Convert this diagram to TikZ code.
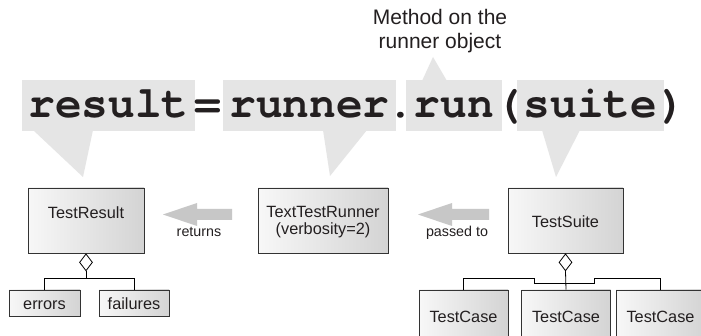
\documentclass[tikz,border=0pt]{standalone}
\usepackage{fontspec}
\setmainfont{Liberation Sans}
\newfontfamily\codefont{texgyrecursor}[Extension=.otf, UprightFont=*-regular, BoldFont=*-bold]
\usetikzlibrary{shapes.geometric}
\definecolor{calloutgray}{gray}{0.90}
\definecolor{arrowgray}{gray}{0.78}
\definecolor{inkcol}{HTML}{231F20}
\tikzset{
  calloutbox/.style={fill=calloutgray, draw=none, inner sep=0pt},
  codetext/.style={font=\codefont\bfseries\fontsize{44.5}{50}\selectfont, text=inkcol, inner sep=0pt, anchor=base},
  umlbox/.style={draw=black!80, line width=0.9pt, left color=black!3, right color=black!17, inner sep=0pt},
  umltext/.style={font=\fontsize{16.3}{18}\selectfont, text=inkcol, inner sep=0pt, anchor=base, align=center},
  smalltext/.style={font=\fontsize{14.3}{16}\selectfont, text=inkcol, inner sep=0pt, anchor=base},
  agg/.style={diamond, draw=black, line width=0.8pt, fill=white, inner sep=0pt, minimum width=13pt, minimum height=17pt, aspect=0.76},
  conn/.style={draw=black, line width=0.8pt},
  blockarrow/.style={fill=arrowgray, draw=none}
}
\begin{document}
\begin{tikzpicture}[x=1pt,y=-1pt]
\useasboundingbox (0,0) rectangle (701,336);
\clip (0,0) rectangle (701,336);
\fill[white] (0,0) rectangle (701,336);

% annotation
\node[font=\fontsize{21}{24}\selectfont, text=inkcol, align=center, inner sep=0pt] (note) at (440,31) {Method on the\\runner object};

% callout boxes
\node[calloutbox, minimum width=173pt, minimum height=51pt] (bres) at (108.5,105.5) {};
\node[calloutbox, minimum width=173pt, minimum height=51pt] (brun) at (309.5,105.5) {};
\node[calloutbox, minimum width=96pt, minimum height=51pt] (bmeth) at (454,105.5) {};
\node[calloutbox, minimum width=147pt, minimum height=51pt] (bsuite) at (590.5,105.5) {};

% callout pointers
\fill[calloutgray] (33,130) -- (93,130) -- (83,177) -- cycle;
\fill[calloutgray] (323,130) -- (367,130) -- (330,176) -- cycle;
\fill[calloutgray] (422,81) -- (447,81) -- (433,57) -- cycle;
\fill[calloutgray] (542,130) -- (580,130) -- (556,177) -- cycle;

% code text
\node[codetext] (tres) at (108.5,118) {result};
\node[codetext] (teq) at (208,118) {=};
\node[codetext] (trunner) at (309.5,118) {runner};
\node[codetext] (tdot) at (401,118) {.};
\node[codetext] (trun) at (454,118) {run};
\node[codetext] (tlp) at (509,118) {(};
\node[codetext] (tsuite) at (590.5,118) {suite};
\node[codetext] (trp) at (673,118) {)};

% UML boxes
\node[umlbox, minimum width=116pt, minimum height=65pt] (result) at (86,220.5) {};
\node[umltext] (resultlbl) at (86,219) {TestResult};

\node[umlbox, minimum width=130pt, minimum height=65pt] (runner) at (323,220.5) {};
\node[umltext] (runnerlbl) at (323,218) {TextTestRunner};
\node[umltext] (runnerlbl2) at (323,235) {(verbosity=2)};

\node[umlbox, minimum width=115pt, minimum height=65pt] (suite) at (565.5,220.5) {};
\node[umltext] (suitelbl) at (565.5,228) {TestSuite};

\node[umlbox, minimum width=71pt, minimum height=26pt] (errors) at (44.5,303) {};
\node[umltext] (errorslbl) at (44.5,310) {errors};
\node[umlbox, minimum width=70pt, minimum height=26pt] (failures) at (134,303) {};
\node[umltext] (failureslbl) at (134,310) {failures};

\node[umlbox, minimum width=89pt, minimum height=70pt] (case1) at (463.5,325) {};
\node[umltext] (case1lbl) at (463.5,323) {TestCase};
\node[umlbox, minimum width=89pt, minimum height=70pt] (case2) at (566,325) {};
\node[umltext] (case2lbl) at (566,323) {TestCase};
\node[umlbox, minimum width=89pt, minimum height=70pt] (case3) at (660.5,325) {};
\node[umltext] (case3lbl) at (660.5,323) {TestCase};

% block arrows
\fill[blockarrow] (163,214.5) -- (197,203) -- (197,209) -- (232,209) -- (232,220) -- (197,220) -- (197,226) -- cycle;
\node[smalltext] (returns) at (199,237) {returns};
\fill[blockarrow] (418,214.5) -- (452,203) -- (452,209) -- (489,209) -- (489,220) -- (452,220) -- (452,226) -- cycle;
\node[smalltext] (passed) at (457,237) {passed to};

% aggregation: TestResult
\node[agg, anchor=north] (dres) at (result.south) {};
\coordinate (jres) at (86,278);
\draw[conn] (dres.south) -- (jres);
\draw[conn] (errors.north) -- (errors.north |- jres) -- (failures.north |- jres) -- (failures.north);

% aggregation: TestSuite
\node[agg, anchor=north] (dsuite) at (suite.south) {};
\draw[conn] (dsuite.south) -- (case2.north);
\coordinate (dipl) at (534,283.5);
\coordinate (dipr) at (594,283.5);
\draw[conn] (case1.north) -- (case1.north |- 0,278) -- (dipl |- 0,278) -- (dipl) -- (dipr) -- (dipr |- 0,278) -- (case3.north |- 0,278) -- (case3.north);
\end{tikzpicture}
\end{document}
